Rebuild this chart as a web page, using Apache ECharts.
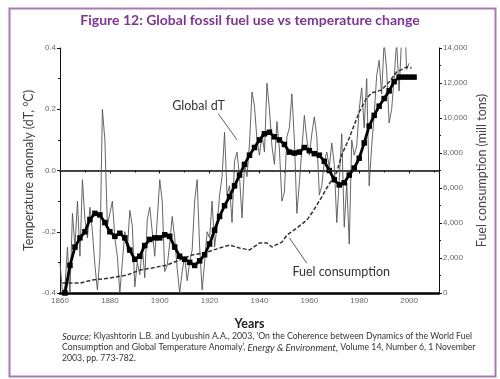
<!DOCTYPE html>
<html><head><meta charset="utf-8">
<script src="https://cdn.jsdelivr.net/npm/echarts@6/dist/echarts.min.js"></script>
<style>html,body{margin:0;padding:0;background:#fff}#c{width:500px;height:379px}</style>
</head><body><div id="c"></div>
<script>
// ---- data ----
const annualYears = [];
for (let y = 1860; y <= 2000; y++) annualYears.push(y);
const dTAnnual = [
 -0.30,-0.40,-0.38,-0.25,-0.40,-0.14,-0.25,-0.10,-0.28,-0.03,
 -0.16,-0.22,-0.12,-0.20,-0.31,-0.39,-0.28, 0.20, 0.10,-0.18,
 -0.14,-0.10,-0.22,-0.28,-0.40,-0.30,-0.20,-0.26,-0.13,-0.18,
 -0.38,-0.30,-0.34,-0.25,-0.35,-0.16,-0.12,-0.20,-0.28,-0.16,
 -0.03,-0.10,-0.33,-0.31,-0.24,-0.15,-0.22,-0.32,-0.40,-0.33,
 -0.28,-0.36,-0.30,-0.26,-0.10,-0.03,-0.25,-0.39,-0.30,-0.20,
 -0.22,-0.10,-0.25,-0.18,-0.08,-0.02, 0.125,-0.08,-0.05,-0.17,
  0.03, 0.06,-0.02,-0.155,0.02,-0.02, 0.09, 0.256,0.21, 0.10,
  0.05, 0.12, 0.06, 0.285,0.20, 0.08, 0.02, 0.16, 0.07,-0.10,
 -0.07, 0.11, 0.14, 0.25, 0.10,-0.14,-0.04, 0.07, 0.18, 0.10,
  0.05, 0.12, 0.175,0.11,-0.08,-0.05, 0.03, 0.06, 0.01, 0.09,
  0.02,-0.17,-0.03, 0.12,-0.185,-0.04,-0.24, 0.10, 0.05, 0.08,
  0.20, 0.27, 0.14, 0.30,-0.05, 0.08, 0.18, 0.31, 0.36, 0.25,
  0.42, 0.33, 0.155,0.20, 0.30, 0.42, 0.26, 0.43, 0.55, 0.33,
  0.35
];
const smoothYears = [1862,1864,1866,1868,1870,1872,1874,1876,1878,1880,1882,1884,1886,1888,1890,1892,1894,1896,1898,1900,1902,1904,1906,1908,1910,1912,1914,1916,1918,1920,1922,1924,1926,1928,1930,1932,1934,1936,1938,1940,1942,1944,1946,1948,1950,1952,1954,1956,1958,1960,1962,1964,1966,1968,1970,1972,1974,1976,1978,1980,1982,1984,1986,1988,1990,1992,1994,1996,1998,2000,2002];
const dTSmooth = [-0.40,-0.31,-0.25,-0.22,-0.20,-0.16,-0.14,-0.145,-0.17,-0.20,-0.215,-0.205,-0.22,-0.26,-0.29,-0.28,-0.245,-0.225,-0.22,-0.22,-0.21,-0.215,-0.25,-0.28,-0.29,-0.30,-0.31,-0.295,-0.275,-0.24,-0.195,-0.15,-0.115,-0.085,-0.05,-0.015,0.02,0.05,0.075,0.10,0.12,0.125,0.11,0.10,0.085,0.06,0.057,0.06,0.075,0.065,0.055,0.05,0.03,0.0,-0.03,-0.047,-0.04,-0.015,0.008,0.04,0.09,0.145,0.18,0.21,0.235,0.26,0.29,0.305,0.305,0.305,0.305];
const fuelYears = [1861,1868,1873,1880,1887,1892,1897,1903,1908,1913,1919,1924,1928,1932,1936,1940,1943,1945,1949,1951,1955,1959,1961,1963,1965,1967,1968,1971,1973,1976,1978,1980,1983,1985,1989,1992,1995,1999,2001];
const fuelVals = [570,570,740,860,1030,1310,1430,1600,1890,2170,2340,2570,2740,2570,2460,2860,2860,2630,2910,3310,3710,4170,4570,5030,5490,6000,6230,6910,7890,8860,9600,10340,11140,11430,11600,12060,12630,12910,12860];
// annotations (data coordinates)
const dTLabelPos = [1904.8, 0.212];
const dTPointer = [[1923.5, 0.185], [1931, 0.10]];
const fuelLabelPos = [1953, 1200];
const fuelPointer = [[1959, 1700], [1952, 3150]];

const zip = (a, b) => a.map((v, i) => [v, b[i]]);
const chart = echarts.init(document.getElementById('c'), null, {renderer: 'canvas'});
const tickFont = {color: '#666', fontSize: 8, fontFamily: 'Liberation Sans'};
const srcStyle = {fontSize: 8.7, fontFamily: 'Lato', fill: '#333', lineHeight: 11};
const opt = {
  animation: false,
  textStyle: {fontFamily: 'Lato'},
  grid: {left: 60, right: 61, top: 48, bottom: 86},
  xAxis: [{
    type: 'value', min: 1860, max: 2012, interval: 20,
    name: 'Years', nameLocation: 'middle', nameGap: 24,
    nameTextStyle: {fontWeight: 'bold', fontSize: 12.5, color: '#222', fontFamily: 'Lato'},
    axisLine: {lineStyle: {color: '#111', width: 1.5}},
    axisTick: {length: 3, lineStyle: {color: '#111'}},
    minorTick: {show: true, splitNumber: 2, length: 2, lineStyle: {color: '#111'}},
    axisLabel: Object.assign({margin: 4, formatter: v => (v % 20 === 0 ? String(v) : '')}, tickFont),
    splitLine: {show: false}
  }, {
    type: 'value', min: 1860, max: 2012, position: 'top',
    axisLine: {show: true, lineStyle: {color: '#000', width: 2.5}},
    axisTick: {show: false}, axisLabel: {show: false}, splitLine: {show: false}
  }],
  yAxis: [{
    type: 'value', min: -0.4, max: 0.4, interval: 0.2,
    name: 'Temperature anomaly (dT, \u00B0C)', nameLocation: 'middle', nameGap: 25, nameMoveOverlap: false,
    nameTextStyle: {fontSize: 12.5, color: '#444', fontFamily: 'Lato'},
    axisLine: {show: true, lineStyle: {color: '#111', width: 1}},
    axisTick: {length: 3, lineStyle: {color: '#111'}},
    minorTick: {show: true, splitNumber: 2, length: 2, lineStyle: {color: '#111'}},
    axisLabel: Object.assign({margin: 4, formatter: v => v.toFixed(1)}, tickFont),
    splitLine: {show: false}
  }, {
    type: 'value', min: 0, max: 14000, interval: 2000, position: 'right',
    name: 'Fuel consumption (mill tons)', nameLocation: 'middle', nameGap: 36, nameRotate: 90, nameMoveOverlap: false,
    nameTextStyle: {fontSize: 12.5, color: '#444', fontFamily: 'Lato'},
    axisLine: {show: true, lineStyle: {color: '#111', width: 1}},
    axisTick: {length: 3, lineStyle: {color: '#111'}},
    minorTick: {show: true, splitNumber: 2, length: 2, lineStyle: {color: '#111'}},
    axisLabel: Object.assign({margin: 4}, tickFont),
    splitLine: {show: false}
  }],
  series: [{
    name: 'Global dT annual', type: 'line', xAxisIndex: 0, yAxisIndex: 0,
    data: zip(annualYears, dTAnnual), symbol: 'none', clip: true,
    lineStyle: {color: '#555', width: 0.9},
    markLine: {
      silent: true, symbol: 'none', label: {show: false},
      lineStyle: {color: '#333', type: 'dotted', width: 1},
      data: [{yAxis: 0}, [{coord: dTPointer[0], lineStyle: {type: 'solid', width: 0.8, color: '#333'}}, {coord: dTPointer[1]}]]
    },
    markPoint: {
      silent: true, symbol: 'circle', symbolSize: 1, itemStyle: {color: 'rgba(0,0,0,0)'},
      label: {show: true, position: 'right', distance: 0, color: '#333', fontSize: 12.5, fontFamily: 'Lato'},
      data: [{coord: dTLabelPos, value: 'Global dT', label: {formatter: 'Global dT'}}]
    }
  }, {
    name: 'Fuel consumption', type: 'line', xAxisIndex: 0, yAxisIndex: 1,
    data: zip(fuelYears, fuelVals), symbol: 'none',
    lineStyle: {color: '#333', width: 1.5, type: [4, 2]},
    markLine: {
      silent: true, symbol: 'none', label: {show: false},
      lineStyle: {color: '#333', type: 'solid', width: 0.8},
      data: [[{coord: fuelPointer[0]}, {coord: fuelPointer[1]}]]
    },
    markPoint: {
      silent: true, symbol: 'circle', symbolSize: 1, itemStyle: {color: 'rgba(0,0,0,0)'},
      label: {show: true, position: 'right', distance: 0, color: '#333', fontSize: 12.5, fontFamily: 'Lato'},
      data: [{coord: fuelLabelPos, value: 'Fuel consumption', label: {formatter: 'Fuel consumption'}}]
    }
  }, {
    name: 'Global dT smoothed', type: 'line', xAxisIndex: 0, yAxisIndex: 0,
    data: zip(smoothYears, dTSmooth), symbol: 'rect', symbolSize: 5.5, showAllSymbol: true,
    itemStyle: {color: '#000'}, lineStyle: {color: '#000', width: 2.8}
  }],
  graphic: [{
    type: 'rect', left: 7, top: 6, silent: true,
    shape: {width: 486, height: 368},
    style: {fill: 'none', stroke: '#a57ab3', lineWidth: 2}
  }, {
    type: 'text', left: 'center', top: 13,
    style: {text: 'Figure 12: Global fossil fuel use vs temperature change', fill: '#7d3592',
      font: 'bold 14px Lato'}
  }, {
    type: 'text', left: 62, top: 331,
    style: Object.assign({
      text: '{i|Source:}{n| Klyashtorin L.B. and Lyubushin A.A., 2003, \u2018On the Coherence between Dynamics of the World Fuel}\n{n|Consumption and Global Temperature Anomaly\u2019, }{i|Energy & Environment,}{n| Volume 14, Number 6, 1 November}\n{n|2003, pp. 773-782.}',
      rich: {
        n: Object.assign({}, srcStyle),
        i: Object.assign({}, srcStyle, {fontStyle: 'italic', fontSize: 9.6})
      }
    }, srcStyle)
  }]
};
chart.setOption(opt);
</script></body></html>
